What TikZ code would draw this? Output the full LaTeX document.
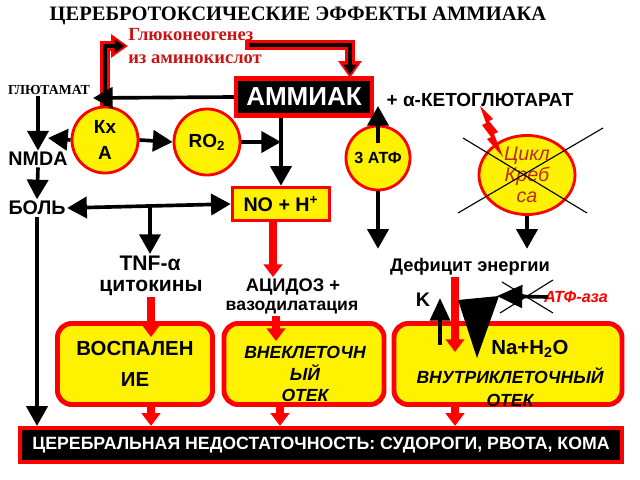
\documentclass[tikz,border=0pt]{standalone}
\usepackage{fontspec}
\setmainfont{Liberation Sans}
\newfontfamily\serifbf{Liberation Serif}
\usetikzlibrary{arrows.meta,shapes.geometric}

\definecolor{krebsred}{RGB}{190,40,30}
\definecolor{glucred}{RGB}{200,20,20}

\tikzset{
   blk/.style={draw=black, line width=2.6pt, -{Triangle[length=14pt,width=15pt]}},
   blkboth/.style={draw=black, line width=2.6pt, {Triangle[length=14pt,width=15pt]}-{Triangle[length=14pt,width=15pt]}},
   redarr/.style={draw=red, line width=5pt, -{Triangle[length=9pt,width=13pt]}},
   circ/.style={circle, fill=yellow, draw=red, line width=2pt, minimum size=1.65cm, inner sep=0pt,
      align=center, font=\bfseries\fontsize{13.5}{18}\selectfont},
   ybox/.style={rectangle, fill=yellow, draw=red, line width=2.5pt, minimum width=2.425cm,
      minimum height=0.825cm, font=\bfseries\fontsize{14}{16}\selectfont},
   rbox/.style={rectangle, rounded corners=10pt, fill=yellow, draw=red, line width=3.5pt,
      minimum height=2.025cm, align=center},
   bbox/.style={rectangle, fill=black, draw=red, line width=3pt, text=white},
   lbl/.style={font=\bfseries\fontsize{13}{15}\selectfont, inner sep=1pt},
}

\begin{document}
\begin{tikzpicture}[x=0.025cm, y=-0.025cm]
   \useasboundingbox (0,0) rectangle (640,480);

   % titles
   \node[font=\serifbf\bfseries\fontsize{14.6}{16}\selectfont] (title) at (298,16)
      {ЦЕРЕБРОТОКСИЧЕСКИЕ ЭФФЕКТЫ АММИАКА};
   \node[anchor=west, align=left, text=glucred, inner sep=0pt,
      font=\serifbf\bfseries\fontsize{13.2}{17}\selectfont] (gluc) at (128,46)
      {Глюконеогенез\\из аминокислот};
   \node[font=\serifbf\bfseries\fontsize{9.8}{11}\selectfont, inner sep=1pt] (glut) at (49,90) {ГЛЮТАМАТ};

   % simple labels
   \def \Labels {
      nmda/38/159/14/NMDA,
      bol/37/208/14/БОЛЬ,
      tnf/150/263/15/TNF-α,
      cyto/151/288/15/цитокины,
      acid/293/287/13/АЦИДОЗ +,
      vaso/292/308/12.5/вазодилатация,
      defic/470/267/13/Дефицит энергии,
      k/423/300/14/K}
   \foreach \u / \x / \y / \s / \t in \Labels {
      \node[lbl, font=\bfseries\fontsize{\s}{15}\selectfont] (\u) at (\x, \y) {\t};
   }
   \node[font=\bfseries\fontsize{13.5}{15}\selectfont] (keto) at (480,100) {+ α-КЕТОГЛЮТАРАТ};
   \node[text=red, font=\bfseries\itshape\fontsize{11.5}{13}\selectfont] (atpase) at (576,297) {АТФ-аза};

   % black box, circles, boxes
   \node[bbox, minimum width=3.4cm, minimum height=0.925cm,
      font=\bfseries\fontsize{18.5}{20}\selectfont] (amm) at (304,97) {АММИАК};
   \node[circ] (kxa) at (105,140) {Кх\\А};
   \node[circ] (ro) at (207,142) {RO\textsubscript{2}};
   \node[circ, minimum size=1.6cm, font=\bfseries\fontsize{11.5}{13}\selectfont] (atp) at (378,158) {3 АТФ};
   \node[ellipse, fill=yellow, draw=red, line width=2pt, minimum width=2.4cm, minimum height=1.6cm,
      inner sep=0pt, align=center, text=krebsred,
      font=\itshape\fontsize{14}{15}\selectfont] (krebs) at (527,175) {Цикл\\Креб\\са};
   \node[ybox] (no) at (281,204) {NO + H\textsuperscript{+}};

   \node[rbox, minimum width=3.875cm, font=\bfseries\fontsize{14.5}{22}\selectfont] (vosp) at (135,364)
      {ВОСПАЛЕН\\ИЕ};
   \node[rbox, minimum width=4cm] (vnek) at (304,364) {};
   \node[align=center, font=\bfseries\itshape\fontsize{12.5}{15.5}\selectfont] (vnektxt) at (305,374)
      {ВНЕКЛЕТОЧН\\ЫЙ\\ОТЕК};
   \node[rbox, minimum width=5.7cm] (vnut) at (508,364) {};
   \node[font=\bfseries\fontsize{14.5}{16}\selectfont] (na) at (530,349) {Na+H\textsubscript{2}O};
   \node[align=center, font=\bfseries\itshape\fontsize{12.5}{16}\selectfont] (vnuttxt) at (510,387)
      {ВНУТРИКЛЕТОЧНЫЙ\\ОТЕК};

   \node[bbox, minimum width=15.05cm, minimum height=0.85cm,
      font=\bfseries\fontsize{12.6}{14}\selectfont] (brain) at (321,445)
      {ЦЕРЕБРАЛЬНАЯ НЕДОСТАТОЧНОСТЬ: СУДОРОГИ, РВОТА, КОМА};

   % free ends
   \coordinate (glutend) at (93,98);
   \coordinate (kxaleft) at (48,138);
   \coordinate (ammin) at (245,45);
   \coordinate (ammhit) at (350,78);
   \coordinate (atpup) at (378,106);
   \coordinate (kbot) at (440,345);
   \coordinate (ktop) at (440,298);
   \coordinate (naend) at (455,352);
   \coordinate (pumpstart) at (548,297);
   \coordinate (pumpend) at (497,296);

   % red-edged elbows
   \draw[red, line width=7pt, -{Triangle[length=12pt,width=16pt]}] (kxa.north) |- (gluc.west);
   \draw[black, line width=2.6pt, shorten >=2.5pt, -{Triangle[length=7pt,width=9pt]}] (kxa.north) |- (gluc.west);
   \draw[red, line width=7pt, -{Triangle[length=12pt,width=16pt]}] (ammin) -| (ammhit);
   \draw[black, line width=2.6pt, shorten <=2.5pt, shorten >=2.5pt, -{Triangle[length=7pt,width=9pt]}] (ammin) -| (ammhit);

   % black arrows
   \draw[blk] (amm.west) -- (glutend);
   \draw[blk] (nmda.north |- glut.south) -- (nmda.north);
   \draw[blk] (nmda.south) -- (bol.north);
   \draw[blk] (bol.south) -- (bol.south |- brain.north);
   \draw[blk] (kxa.west) -- (kxaleft);
   \draw[blk] (kxa.east) -- (ro.west);
   \draw[blk] (ro.east) -- (no.north |- ro.east);
   \draw[blk] (no.north |- amm.south) -- (no.north);
   \draw[blkboth] (bol.east) -- (no.west);
   \draw[blk] (tnf.north |- bol.east) -- (tnf.north);
   \draw[blk] ([yshift=-0.45cm]atp.north) -- (atpup);
   \draw[blk] (atp.south) -- ([yshift=0.2cm]atp.south |- defic.north);
   \draw[blk] (krebs.south) -- ([yshift=0.2cm]krebs.south |- defic.north);
   \draw[blk, -{Triangle[length=16pt,width=14pt]}] (kbot) -- (ktop);

   % red arrows
   \draw[redarr] (cyto.south) -- ([yshift=-0.4cm]vosp.north -| cyto.south);
   \draw[redarr] (vosp.south -| cyto.south) -- (brain.north -| cyto.south);
   \draw[redarr] ([xshift=-0.2cm]no.south) -- ([xshift=-0.2cm]no.south |- acid.north);
   \draw[redarr] ([xshift=-0.4cm]vaso.south) -- ([xshift=-0.4cm,yshift=-0.5cm]vaso.south |- vnek.north);
   \draw[redarr] ([xshift=-0.6cm]vnek.south) -- ([xshift=-0.6cm]vnek.south |- brain.north);
   \draw[redarr] (naend |- defic.south) -- (naend);
   \draw[redarr] (vnut.south -| naend) -- (brain.north -| naend);

   % blocked Krebs cycle and lightning
   \draw[thick] (463,138) -- (587,213);
   \draw[thick] (458,213) -- (603,128);
   \fill[red] (480,106) -- (493,119) -- (489,121) -- (498,132) -- (494,134) -- (503,157)
      -- (487,139) -- (491,137) -- (482,125) -- (486,123) -- cycle;

   % Na/K pump and ATP-ase
   \fill (458,300) -- (499,296) -- (477,358) -- cycle;
   \draw[blk, -{Triangle[length=18pt,width=16pt]}] (pumpstart) -- (pumpend);
   \draw[thick] (502,282) -- (553,313);
   \draw[thick] (500,313) -- (553,280);
\end{tikzpicture}
\end{document}
